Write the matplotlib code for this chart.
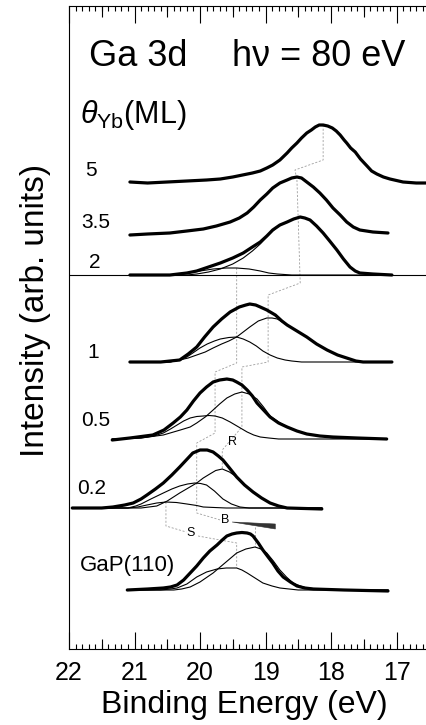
import matplotlib
matplotlib.use("Agg")
import matplotlib.pyplot as plt
from matplotlib.ticker import MultipleLocator

plt.rcParams['font.family'] = ['Liberation Sans', 'DejaVu Sans']
plt.rcParams['mathtext.fontset'] = 'custom'
plt.rcParams['mathtext.rm'] = 'Liberation Sans'
plt.rcParams['mathtext.it'] = 'Liberation Sans:italic'

# spectra: binding energy (eV) and intensity (arb. units)
e_5 = [21.07, 20.8, 20.5, 20.2, 19.9, 19.69, 19.5, 19.35, 19.2, 19.08, 18.98, 18.89, 18.78,
       18.67, 18.6, 18.52, 18.45, 18.37, 18.3, 18.24, 18.18, 18.12, 18.05, 17.98, 17.92,
       17.86, 17.8, 17.76, 17.7, 17.63, 17.55, 17.45, 17.38, 17.30, 17.2, 17.1, 16.9, 16.7, 16.53]
i_5 = [467, 466, 467, 468, 469, 470, 472, 474, 476, 478, 481, 484, 489,
       496, 501, 506, 511, 516, 519, 522, 524, 524, 523, 521, 518,
       514, 509, 506, 501, 497, 490, 483, 478, 475, 472, 470, 467, 466, 466]

e_35 = [21.07, 20.8, 20.46, 20.2, 19.95, 19.75, 19.54, 19.4, 19.28, 19.18, 19.08, 18.98, 18.89,
        18.78, 18.67, 18.6, 18.52, 18.45, 18.37, 18.27, 18.17, 18.07, 17.97, 17.86, 17.76,
        17.66, 17.56, 17.36, 17.13]
i_35 = [414, 415, 416, 418, 420, 423, 427, 431, 436, 442, 449, 455, 461,
        466, 469, 471, 472, 471, 467, 462, 456, 449, 441, 434, 427,
        422, 419, 417, 416]

e_2 = [21.07, 20.46, 20.2, 20.05, 19.87, 19.69, 19.5, 19.34, 19.2, 19.08, 18.98, 18.89, 18.78,
       18.67, 18.57, 18.47, 18.40, 18.32, 18.22, 18.12, 18.02, 17.91, 17.81, 17.71, 17.63,
       17.56, 17.36, 17.07]
i_2 = [374, 374, 376, 378, 382, 386, 391, 396, 402, 407, 413, 419, 424,
       427, 430, 432, 431, 429, 423, 416, 408, 399, 390, 382, 378,
       376, 375, 374]
i_2_main = [374, 374, 374, 375, 377, 380, 385, 391, 398, 405, 412, 418, 424,
            427, 430, 432, 431, 429, 423, 416, 408, 399, 390, 382, 378,
            376, 375, 374]
e_2_s = [21.07, 20.46, 20.3, 20.2, 20.0, 19.8, 19.6, 19.44, 19.25, 19.08, 18.95, 18.82, 18.6, 17.07]
i_2_s = [374, 374, 375, 376, 378, 380, 381, 381, 380, 378, 376, 375, 374, 374]

e_1 = [21.07, 20.6, 20.31, 20.18, 20.05, 19.93, 19.80, 19.67, 19.54, 19.40, 19.30, 19.24, 19.15,
       19.08, 18.98, 18.85, 18.75, 18.67, 18.52, 18.37, 18.22, 18.06, 17.90, 17.76, 17.62,
       17.51, 17.07]
i_1 = [287, 287, 289, 295, 302, 312, 322, 330, 337, 342, 344, 345, 344,
       342, 339, 334, 328, 324, 318, 312, 305, 299, 294, 291, 288,
       287, 287]
e_1_a = [21.07, 20.46, 20.31, 20.2, 20.11, 20.0, 19.89, 19.78, 19.69, 19.56, 19.44, 19.34, 19.24,
         19.14, 19.04, 18.93, 18.82, 18.7, 18.6, 18.45, 18.3, 17.07]
i_1_a = [287, 287, 289, 292, 296, 301, 305, 308, 310, 311.5, 312, 310, 307,
         303, 298, 294, 291, 289, 288, 287, 287, 287]
e_1_b = [21.07, 20.46, 20.31, 20.18, 20.05, 19.92, 19.80, 19.67, 19.56, 19.44, 19.34, 19.24,
         19.11, 18.98, 18.90, 18.82, 18.67, 18.52, 18.37, 18.22, 18.06, 17.90, 17.76, 17.62,
         17.51, 17.07]
i_1_b = [287, 287, 289, 291, 294, 297, 301, 305, 308, 312, 317, 322,
         328, 331, 331, 330, 324, 318, 312, 305, 299, 294, 291, 288,
         287, 287]

e_05 = [21.34, 21.07, 20.72, 20.55, 20.41, 20.30, 20.20, 20.10, 20.00, 19.90, 19.80, 19.70,
        19.59, 19.50, 19.44, 19.36, 19.28, 19.20, 19.13, 19.03, 18.93, 18.80, 18.67, 18.52,
        18.37, 18.17, 17.97, 17.6, 17.15]
i_05 = [209, 211, 214, 219, 226, 232, 239, 248, 256, 262, 267, 269,
        270, 269, 267, 264, 259, 253, 246, 239, 232, 226, 222, 218,
        215, 213, 212, 211, 210]
e_05_a = [21.34, 20.90, 20.70, 20.56, 20.45, 20.35, 20.25, 20.15, 20.05, 19.95, 19.86, 19.77,
          19.66, 19.54, 19.41, 19.28, 19.18, 19.08, 18.95, 18.80, 17.15]
i_05_a = [210, 211, 213, 216, 220, 224, 228, 231, 232.5, 233, 233.5, 233,
          231, 227, 222, 217, 214, 212, 211, 210, 210]
e_05_b = [21.34, 20.90, 20.56, 20.30, 20.15, 20.05, 19.92, 19.80, 19.70, 19.59, 19.47, 19.36,
          19.25, 19.13, 19.03, 18.93, 18.80, 18.67, 18.52, 18.37, 18.17, 17.97, 17.15]
i_05_b = [210, 211, 214, 219, 222, 226, 232, 239, 245, 251, 255, 257,
          255, 250, 242, 233, 227, 222, 218, 215, 213, 211, 210]

e_02 = [21.95, 21.83, 21.50, 21.33, 21.15, 21.02, 20.90, 20.81, 20.68, 20.56, 20.43, 20.31,
        20.21, 20.11, 20.00, 19.89, 19.80, 19.72, 19.65, 19.55, 19.44, 19.32, 19.19, 19.06,
        18.93, 18.80, 18.67, 18.14]
i_02 = [141, 141, 141, 142, 144, 146, 150, 154, 160, 166, 174, 182,
        189, 196, 199, 199, 197, 193, 189, 181, 172, 164, 157, 151,
        146, 143, 141, 140]
e_02_s = [21.95, 21.10, 20.95, 20.81, 20.66, 20.52, 20.36, 20.20, 20.05, 19.95, 19.78, 19.60, 18.14]
i_02_s = [141, 141, 142, 144, 146, 147, 146.5, 145, 143.5, 142, 141.5, 141, 141]
e_02_m = [21.95, 21.10, 20.98, 20.90, 20.75, 20.56, 20.43, 20.31, 20.19, 20.08, 19.99, 19.90,
          19.78, 19.65, 19.52, 19.39, 19.25, 19.10, 18.14]
i_02_m = [141, 141, 143, 145, 150, 156, 160, 163, 165, 166, 165.5, 164,
          158, 150, 145, 142, 141, 141, 141]
e_02_b = [21.95, 20.90, 20.78, 20.66, 20.50, 20.31, 20.18, 20.05, 19.95, 19.85, 19.76, 19.66,
          19.55, 19.44, 19.32, 19.19, 19.06, 18.93, 18.80, 18.67, 18.14]
i_02_b = [141, 141, 142, 143, 148, 156, 161, 166, 171, 175, 178.5, 180,
          177, 172, 164, 157, 151, 146, 143, 141, 141]

e_gap = [21.11, 20.80, 20.56, 20.45, 20.35, 20.25, 20.15, 20.05, 19.95, 19.85, 19.74, 19.66,
         19.59, 19.51, 19.44, 19.36, 19.28, 19.23, 19.19, 19.11, 19.04, 18.96, 18.89, 18.81,
         18.73, 18.62, 18.52, 18.40, 18.27, 17.80, 17.13]
i_gap = [59, 60, 61, 62, 64, 69, 76, 83, 91, 98, 104, 109,
         113, 115, 116, 116.5, 116, 115, 113, 106, 99, 92, 86, 78,
         72, 67, 63, 61, 60, 59, 58]
e_gap_s = [21.11, 20.60, 20.45, 20.35, 20.20, 20.05, 19.90, 19.74, 19.60, 19.44, 19.36, 19.28,
           19.16, 19.04, 18.90, 18.78, 18.64, 18.50, 17.13]
i_gap_s = [59, 59, 60, 61, 65, 72, 77, 80, 81, 81, 79, 76, 71, 66, 63, 61, 60, 59, 59]
e_gap_b = [21.11, 20.40, 20.28, 20.15, 20.0, 19.80, 19.62, 19.44, 19.30, 19.16, 19.07, 18.98,
           18.88, 18.78, 18.68, 18.58, 18.47, 18.37, 18.20, 18.00, 17.13]
i_gap_b = [59, 59, 60, 62, 67, 76, 86, 96, 100, 102, 100, 96,
           88, 79, 72, 66, 63, 61, 60, 59, 59]

totals = [(e_5, i_5), (e_35, i_35), (e_2, i_2), (e_1, i_1), (e_05, i_05), (e_02, i_02), (e_gap, i_gap)]
components = [(e_2, i_2_main), (e_2_s, i_2_s), (e_1_a, i_1_a), (e_1_b, i_1_b),
              (e_05_a, i_05_a), (e_05_b, i_05_b), (e_02_s, i_02_s), (e_02_m, i_02_m),
              (e_02_b, i_02_b), (e_gap_s, i_gap_s), (e_gap_b, i_gap_b)]

coverages = ['5', '3.5', '2', '1', '0.5', '0.2', 'GaP(110)']
label_e = [21.66, 21.59, 21.60, 21.63, 21.59, 21.65, 21.10]
label_i = [478, 426, 386, 297, 229, 161, 83]

# thin guide lines joining the component peaks
guide_bulk_e = [18.12, 18.12, 18.55, 18.52, 18.47, 18.96, 18.96, 19.36, 19.36, 19.66, 19.66]
guide_bulk_i = [524, 489, 479, 469, 366, 354, 287, 282, 222, 199, 179]
guide_r_e = [19.44, 19.44, 19.77, 19.77, 20.05, 20.05, 19.69]
guide_r_i = [381, 286, 277, 216, 206, 136, 129]
guide_s1_e = [20.52, 20.52, 20.52, 20.21]
guide_s1_i = [147, 136, 123, 117]
guide_s2_e = [20.03, 19.44, 19.44]
guide_s2_i = [113, 106, 81]
guide_b_e = [19.16, 19.16]
guide_b_i = [122, 102]
wedge_e = [19.51, 18.85, 18.85]
wedge_i = [127, 125, 120]

fig = plt.figure(figsize=(4.27, 7.25), dpi=100)
ax = fig.add_axes([69 / 427, 76 / 725, 358 / 427, 643 / 725])

guide = dict(color='0.62', lw=0.6, ls=(0, (2.5, 2)))
for ge, gi in [(guide_bulk_e, guide_bulk_i), (guide_r_e, guide_r_i), (guide_s1_e, guide_s1_i),
               (guide_s2_e, guide_s2_i), (guide_b_e, guide_b_i)]:
    ax.plot(ge, gi, **guide)
ax.fill(wedge_e, wedge_i, color='0.2', lw=0.4)

ax.axhline(374, color='black', lw=0.8)
for ce, ci in components:
    ax.plot(ce, ci, color='black', lw=0.8)
for te, ti in totals:
    ax.plot(te, ti, color='black', lw=2.3, solid_capstyle='round', solid_joinstyle='round')

for lab, le, li in zip(coverages, label_e, label_i):
    ax.text(le, li, lab, fontsize=16 if lab.startswith('GaP') else 15, ha='center', va='center')

ax.text(19.50, 207, 'R', fontsize=9, ha='center', va='center')
ax.text(19.62, 129, 'B', fontsize=9, ha='center', va='center')
ax.text(20.15, 116, 'S', fontsize=9, ha='center', va='center')

ax.text(20.95, 592, 'Ga 3d', fontsize=26, ha='center', va='center')
ax.text(16.87, 592, 'hν = 80 eV', fontsize=26, ha='right', va='center')
ax.text(21.83, 526, r'$\theta_{\mathrm{Yb}}$(ML)', fontsize=22, ha='left', va='baseline')

ax.set_xlim(22, 22 - 358 / 65.5)
ax.set_ylim(0, 643)
ax.xaxis.set_major_locator(MultipleLocator(1))
ax.xaxis.set_minor_locator(MultipleLocator(0.1))
ax.tick_params(axis='x', which='both', direction='in', top=True, bottom=True, width=0.8)
ax.tick_params(axis='x', which='major', length=12, labelsize=18, pad=9)
ax.tick_params(axis='x', which='minor', length=3.5)
ax.set_yticks([])
ax.spines['right'].set_visible(False)

# half-eV ticks, a little longer than the minor ones
halves = [21.5, 20.5, 19.5, 18.5, 17.5]
xt = ax.get_xaxis_transform()
ax.vlines(halves, 0, 10 / 643, transform=xt, color='black', lw=0.8, clip_on=False)
ax.vlines(halves, 1 - 11 / 643, 1, transform=xt, color='black', lw=0.8, clip_on=False)

fig.text(36 / 427, 1 - 310 / 725, 'Intensity (arb. units)', fontsize=24, rotation=90,
         ha='center', va='center')
fig.text(244 / 427, 1 - 713 / 725, 'Binding Energy (eV)', fontsize=23, ha='center', va='baseline')

fig.savefig('out.png', dpi=100)
